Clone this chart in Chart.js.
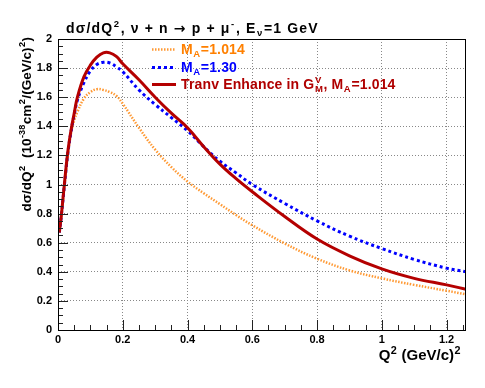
<!DOCTYPE html>
<html><head><meta charset="utf-8">
<script src="https://cdn.jsdelivr.net/npm/chart.js@4/dist/chart.umd.min.js"></script>
<style>html,body{margin:0;padding:0;background:#fff}canvas{display:block}</style>
</head><body>
<canvas id="c" width="485" height="388"></canvas>
<script>
// ---- data ----
const q2 = [0.004,0.01,0.02,0.03,0.04,0.05,0.06,0.08,0.10,0.12,0.14,0.16,0.18,0.20,0.25,0.30,0.35,0.40,0.45,0.50,0.55,0.60,0.70,0.80,0.90,1.00,1.10,1.20,1.26];
const sigmaMA1014 = [0.67,0.78,0.99,1.19,1.35,1.44,1.50,1.59,1.635,1.655,1.65,1.635,1.61,1.555,1.39,1.24,1.12,1.02,0.94,0.865,0.79,0.72,0.595,0.49,0.41,0.355,0.31,0.27,0.245];
const sigmaMA130 = [0.67,0.78,1.00,1.21,1.36,1.48,1.58,1.70,1.78,1.825,1.84,1.835,1.81,1.775,1.65,1.55,1.46,1.37,1.26,1.16,1.08,1.00,0.87,0.75,0.645,0.56,0.485,0.425,0.40];
const sigmaTranv = [0.67,0.78,1.01,1.22,1.37,1.49,1.60,1.74,1.82,1.875,1.905,1.905,1.88,1.83,1.72,1.60,1.49,1.39,1.26,1.14,1.04,0.95,0.78,0.625,0.51,0.42,0.355,0.31,0.28];
const seriesLabels = ['M_{A}=1.014', 'M_{A}=1.30', 'Tranv Enhance in G_{M}^{V}, M_{A}=1.014'];
const xTickValues = [0,0.2,0.4,0.6,0.8,1,1.2];
const yTickValues = [0,0.2,0.4,0.6,0.8,1,1.2,1.4,1.6,1.8,2];
const titleText = 'dσ/dQ^{2}, ν + n → p + μ^{-}, E_{ν}=1 GeV';
const xTitleText = 'Q^{2} (GeV/c)^{2}';
const yTitleText = 'dσ/dQ^{2}  (10^{-38}cm^{2}/(GeV/c)^{2})';

const FAM = '"Liberation Sans", Arial, Helvetica, sans-serif';
const SYM = '"DejaVu Sans", sans-serif';
const toXY = vals => q2.map((q, i) => ({x: q, y: vals[i]}));

// ---- rich text (super/subscripts) ----
function parseRich(s) {
  const out = []; let i = 0, buf = '';
  while (i < s.length) {
    const c = s[i];
    if ((c === '^' || c === '_') && s[i+1] === '{') {
      if (buf) { out.push({t: buf}); buf = ''; }
      const j = s.indexOf('}', i);
      const txt = s.slice(i+2, j);
      const kind = c === '^' ? 'sup' : 'sub';
      const prev = out[out.length-1];
      if (prev && prev.kind && prev.kind !== kind && !prev.stack && prev.justAdded) {
        prev.stack = true; prev[kind] = txt; prev.justAdded = false;
      } else {
        const o = {kind, justAdded: true}; o[kind] = txt; out.push(o);
      }
      i = j + 1; continue;
    }
    buf += c; i++;
    if (out.length) out[out.length-1].justAdded = false;
  }
  if (buf) out.push({t: buf});
  return out;
}
// plain text segment; arrows drawn with a symbol-capable font
function plain(ctx, text, cx, y, size, draw) {
  let w = 0;
  const parts = text.split(/(→)/);
  for (const p of parts) {
    if (!p) continue;
    ctx.font = p === '→' ? `bold ${size}px ${SYM}` : `bold ${size}px ${FAM}`;
    if (draw) ctx.fillText(p, cx + w, y);
    w += ctx.measureText(p).width;
  }
  return w;
}
function richRun(ctx, runs, x, y, size, ss, draw) {
  let cx = x;
  for (const r of runs) {
    if (r.t !== undefined) {
      cx += plain(ctx, r.t, cx, y, size, draw);
    } else {
      ctx.font = `bold ${size*ss}px ${FAM}`;
      let ww = 0;
      if (r.sup) { if (draw) ctx.fillText(r.sup, cx + 0.5, y - size*0.42); ww = Math.max(ww, ctx.measureText(r.sup).width); }
      if (r.sub) { if (draw) ctx.fillText(r.sub, cx + 0.5, y + size*0.22); ww = Math.max(ww, ctx.measureText(r.sub).width); }
      cx += ww + 1;
    }
  }
  return cx - x;
}
function drawRich(ctx, str, x, y, size, color, align, ss = 0.68, spacing = 0) {
  const runs = parseRich(str);
  ctx.save();
  if ('letterSpacing' in ctx) ctx.letterSpacing = spacing + 'px';
  const w = richRun(ctx, runs, 0, 0, size, ss, false);
  const sx = align === 'right' ? x - w : align === 'center' ? x - w/2 : x;
  ctx.fillStyle = color; ctx.textBaseline = 'alphabetic'; ctx.textAlign = 'left';
  richRun(ctx, runs, sx, y, size, ss, true);
  ctx.restore();
  return w;
}

// ---- ROOT-style frame, ticks, titles, legend ----
const rootDecor = {
  id: 'rootDecor',
  afterDatasetsDraw(chart) {
    const {ctx, chartArea: a, scales: {x, y}} = chart;
    ctx.save();
    // minor/major ticks pointing inward
    ctx.strokeStyle = '#222'; ctx.lineWidth = 1; ctx.setLineDash([]);
    ctx.beginPath();
    for (let i = 0; i * 0.05 <= x.max + 1e-9; i++) {
      const px = Math.round(x.getPixelForValue(i * 0.05)) + 0.5;
      const L = i % 4 === 0 ? 10 : 5;
      ctx.moveTo(px, a.bottom); ctx.lineTo(px, a.bottom - L);
    }
    for (let i = 0; i * 0.05 <= y.max + 1e-9; i++) {
      const py = Math.round(y.getPixelForValue(i * 0.05)) + 0.5;
      const L = i % 4 === 0 ? 10 : 5;
      ctx.moveTo(a.left, py); ctx.lineTo(a.left + L, py);
    }
    ctx.stroke();
    // frame
    ctx.strokeStyle = '#000';
    ctx.strokeRect(a.left + 0.5, a.top + 0.5, a.right - a.left - 1, a.bottom - a.top);
    // title
    drawRich(ctx, titleText, 66, 33, 14, '#000', 'left', 0.68, 1.15);
    // x-axis title
    drawRich(ctx, xTitleText, 461, 360, 15, '#000', 'right', 0.72);
    // y-axis title (rotated)
    ctx.save();
    ctx.translate(31, 37); ctx.rotate(-Math.PI / 2);
    drawRich(ctx, yTitleText, 0, 0, 13.5, '#000', 'right', 0.68);
    ctx.restore();
    // legend
    const rows = [49, 67, 84];
    const textColors = ['#ff8000', '#0000ff', '#b00000'];
    chart.data.datasets.forEach((ds, i) => {
      ctx.save();
      ctx.strokeStyle = ds.borderColor; ctx.lineWidth = ds.borderWidth;
      ctx.setLineDash(ds.borderDash || []);
      ctx.beginPath(); ctx.moveTo(152, rows[i] + 0.5); ctx.lineTo(176, rows[i] + 0.5); ctx.stroke();
      ctx.restore();
      drawRich(ctx, seriesLabels[i], 181, rows[i] + 5, 14, textColors[i], 'left', 0.68, 0.15);
    });
    ctx.restore();
  }
};

const fmt = v => String(Number(v.toFixed(2)));

new Chart(document.getElementById('c'), {
  type: 'scatter',
  data: {
    datasets: [
      {label: 'MA=1.014', data: toXY(sigmaMA1014), showLine: true, borderColor: '#ff9933', borderWidth: 2.5, borderDash: [1.5, 1.5], pointRadius: 0, tension: 0.4, order: 3},
      {label: 'MA=1.30', data: toXY(sigmaMA130), showLine: true, borderColor: '#0000ff', borderWidth: 3, borderDash: [3, 3], pointRadius: 0, tension: 0.4, order: 2},
      {label: 'Tranv', data: toXY(sigmaTranv), showLine: true, borderColor: '#b40000', borderWidth: 3, pointRadius: 0, tension: 0.4, order: 1}
    ]
  },
  options: {
    responsive: false,
    animation: false,
    devicePixelRatio: 1,
    layout: {padding: {top: 39, right: 19, left: 0, bottom: 0}},
    plugins: {legend: {display: false}, tooltip: {enabled: false}, title: {display: false}},
    scales: {
      x: {
        type: 'linear', min: 0, max: 1.26,
        afterFit: s => { s.height = 58; },
        afterBuildTicks: s => { s.ticks = xTickValues.map(v => ({value: v})); },
        ticks: {font: {family: FAM, size: 11, weight: 'bold'}, color: '#000', padding: 3, maxRotation: 0, autoSkip: false, callback: v => fmt(v)},
        grid: {color: '#888', lineWidth: 1, drawTicks: false},
        border: {display: false, dash: [1, 2]}
      },
      y: {
        type: 'linear', min: 0, max: 2,
        afterFit: s => { s.width = 58; },
        afterBuildTicks: s => { s.ticks = yTickValues.map(v => ({value: v})); },
        ticks: {font: {family: FAM, size: 11, weight: 'bold'}, color: '#000', padding: 6, autoSkip: false, callback: v => fmt(v)},
        grid: {color: '#888', lineWidth: 1, drawTicks: false},
        border: {display: false, dash: [1, 2]}
      }
    }
  },
  plugins: [rootDecor]
});
</script>
</body></html>
